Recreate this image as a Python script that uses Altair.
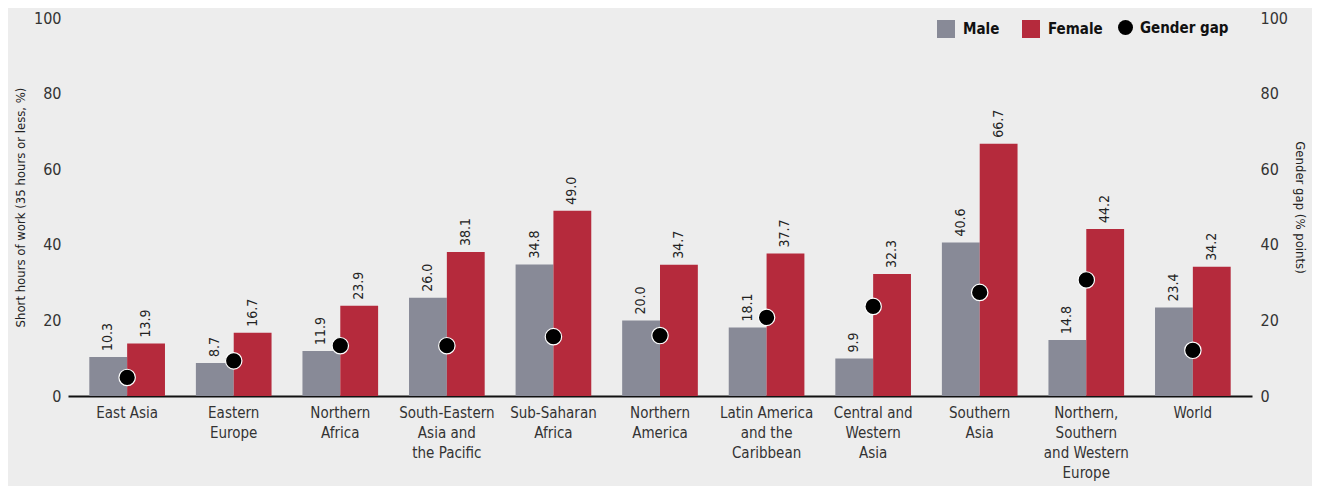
import altair as alt
import pandas as pd

regions = ["East Asia", "Eastern|Europe", "Northern|Africa", "South-Eastern|Asia and|the Pacific",
           "Sub-Saharan|Africa", "Northern|America", "Latin America|and the|Caribbean",
           "Central and|Western|Asia", "Southern|Asia", "Northern,|Southern|and Western|Europe", "World"]
male = [10.3, 8.7, 11.9, 26.0, 34.8, 20.0, 18.1, 9.9, 40.6, 14.8, 23.4]
female = [13.9, 16.7, 23.9, 38.1, 49.0, 34.7, 37.7, 32.3, 66.7, 44.2, 34.2]
gap = [4.9, 9.3, 13.3, 13.3, 15.7, 16.0, 20.8, 23.7, 27.4, 30.7, 12.1]
sexes = ["Male", "Female"]
sex_colors = ["#888a97", "#b52a3c"]

FONT = "Liberation Sans Narrow, DejaVu Sans Condensed, sans-serif"

rows = []
for r, m, f in zip(regions, male, female):
    rows.append({"region": r, "sex": "Male", "value": m})
    rows.append({"region": r, "sex": "Female", "value": f})
bars_df = pd.DataFrame(rows)
gap_df = pd.DataFrame({"region": regions, "gap": gap, "series": ["Gender gap"] * len(regions)})

xenc = alt.X("region:N", sort=regions, title=None,
             scale=alt.Scale(paddingInner=0.29, paddingOuter=0.2),
             axis=alt.Axis(labelAngle=0, labelExpr="split(datum.label, '|')", labelFontSize=15,
                           labelColor="#333333", labelFont=FONT, labelLineHeight=20, labelPadding=9,
                           ticks=False, domainColor="#111111", domainWidth=2, labelBaseline="top"))
yleft = alt.Y("value:Q", scale=alt.Scale(domain=[0, 100]),
              title="Short hours of work (35 hours or less, %)",
              axis=alt.Axis(values=[0, 20, 40, 60, 80, 100], ticks=False, domain=False, grid=False,
                            labelFontSize=16, labelColor="#333333", labelFont=FONT, labelPadding=7,
                            titleFont=FONT, titleFontSize=13, titleFontWeight="normal",
                            titleColor="#222222", titlePadding=6))
xoff = alt.XOffset("sex:N", sort=sexes)

bars = alt.Chart(bars_df).mark_bar().encode(
    x=xenc, xOffset=xoff, y=yleft,
    color=alt.Color("sex:N", sort=sexes, scale=alt.Scale(domain=sexes, range=sex_colors),
                    legend=alt.Legend(title=None, orient="none", legendX=869, legendY=2,
                                      direction="horizontal", symbolType="square", symbolSize=324,
                                      symbolStrokeWidth=0, labelFontSize=15, labelFontWeight="bold",
                                      labelFont=FONT, labelColor="#111111", labelOffset=8,
                                      columnPadding=22, padding=0)))

labels = alt.Chart(bars_df).mark_text(angle=270, align="left", baseline="middle", dx=6,
                                      fontSize=14, font=FONT, color="#222222").encode(
    x=xenc, xOffset=xoff, y=yleft, text=alt.Text("value:Q", format=".1f"))

points = alt.Chart(gap_df).mark_point(filled=True, fill="black", stroke="white", strokeWidth=1.2,
                                      opacity=1, size=270).encode(
    x=xenc,
    y=alt.Y("gap:Q", scale=alt.Scale(domain=[0, 100]), title="Gender gap (% points)",
            axis=alt.Axis(orient="right", values=[0, 20, 40, 60, 80, 100], ticks=False, domain=False,
                          grid=False, labelFontSize=16, labelColor="#333333", labelFont=FONT,
                          labelPadding=8, titleFont=FONT, titleFontSize=13, titleFontWeight="normal",
                          titleColor="#222222", titlePadding=5)),
    shape=alt.Shape("series:N", scale=alt.Scale(range=["circle"]),
                    legend=alt.Legend(title=None, orient="none", legendX=1050, legendY=2,
                                      symbolSize=225, symbolFillColor="black", symbolStrokeColor="black",
                                      symbolStrokeWidth=0, labelFontSize=15, labelFontWeight="bold",
                                      labelFont=FONT, labelColor="#111111", labelOffset=7, padding=0)))

chart = alt.layer(alt.layer(bars, labels), points).resolve_scale(y="independent").properties(
    width=1184, height=378,
    autosize=alt.AutoSizeParams(type="none"),
    padding={"left": 60, "top": 10, "right": 60, "bottom": 92},
    background="#ededed",
).configure_view(stroke=None)

chart.save("out.html", embed_options={"renderer": "svg", "actions": False})
